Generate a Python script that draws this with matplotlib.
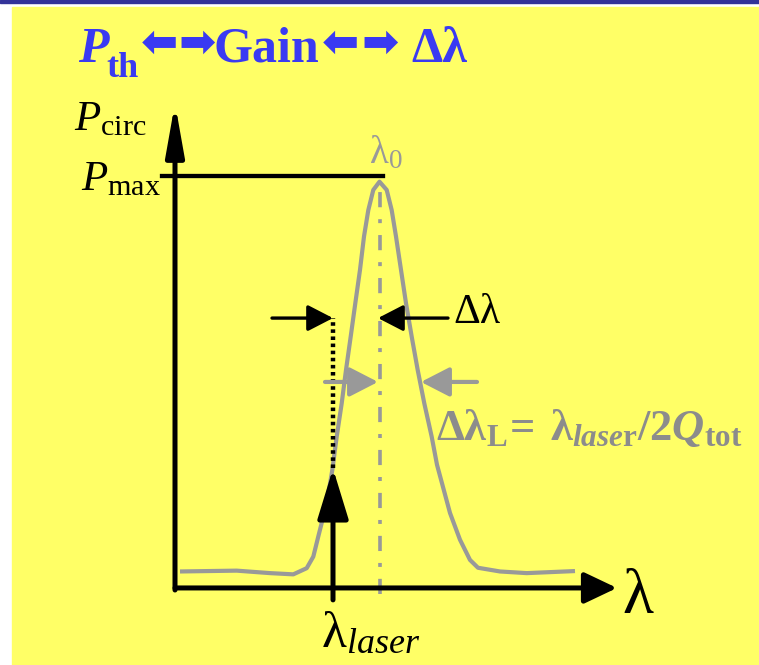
import matplotlib.pyplot as plt
from matplotlib.patches import Rectangle

plt.rcParams['mathtext.fontset'] = 'custom'
plt.rcParams['mathtext.rm'] = 'Liberation Serif'
plt.rcParams['mathtext.it'] = 'Liberation Serif:italic'
plt.rcParams['mathtext.bf'] = 'Liberation Serif:bold'
plt.rcParams['mathtext.bfit'] = 'Liberation Serif:italic:bold'

# cavity response: detuning from lambda_0 vs circulating power (P/Pmax)
lam = [-2.00, -1.433, -1.10, -0.867, -0.733, -0.667, -0.617, -0.533, -0.477,
       -0.433, -0.383, -0.34, -0.293, -0.247, -0.20, -0.16, -0.117, -0.067,
       -0.005, 0.067, 0.117, 0.16, 0.21, 0.26, 0.317, 0.377, 0.443, 0.517,
       0.57, 0.70, 0.80, 0.90, 0.98, 1.20, 1.467, 1.95]
power = [0.040, 0.042, 0.036, 0.033, 0.048, 0.076, 0.125, 0.206, 0.286,
         0.367, 0.448, 0.529, 0.610, 0.691, 0.772, 0.853, 0.917, 0.966,
         0.986, 0.966, 0.917, 0.853, 0.772, 0.691, 0.610, 0.529, 0.448, 0.367,
         0.299, 0.182, 0.117, 0.068, 0.049, 0.040, 0.036, 0.041]

lam0 = 0.0
lam_laser = -0.47
p_laser = 0.29
p_max = 1.0
hwhm = 0.41
half_level = 0.5
dl_level = 0.655

W, H = 759, 665
YELLOW = '#ffff66'
BLUE = '#3a3af2'
GRAY = '#999999'
TGRAY = '#8c8c8c'

fig = plt.figure(figsize=(W / 100, H / 100), dpi=100)
fig.patches.append(Rectangle((0, 1 - 3 / H), 1, 3 / H, transform=fig.transFigure,
                             color='#333399', zorder=-2))
fig.patches.append(Rectangle((12 / W, 0), 1 - 12 / W, 1 - 7 / H, transform=fig.transFigure,
                             color=YELLOW, zorder=-2))

ax = fig.add_axes([0, 0, 1, 1])
ax.set_xlim(-3.80, 3.79)
ax.set_ylim(-0.187, 1.427)
ax.axis('off')
ax.patch.set_alpha(0)


def fpos(x, y):
    return x / W, 1 - y / H


def arrow(x0, y0, x1, y1, color, lw, hl, hw):
    ax.annotate('', xy=(x1, y1), xytext=(x0, y0),
                arrowprops=dict(arrowstyle=f'-|>,head_length={hl},head_width={hw}',
                                color=color, lw=lw, shrinkA=0, shrinkB=0,
                                mutation_scale=1))


# resonance curve
ax.plot(lam, power, color=GRAY, lw=3.0, solid_joinstyle='round',
        solid_capstyle='butt', zorder=2)
ax.plot([lam0, lam0], [-0.015, 0.966], color=GRAY, lw=2.6,
        dashes=(4.2, 3.3, 1.1, 3.3), zorder=1)

# axes with arrows
arrow(-2.05, -0.005, -2.05, 1.177, 'black', 3.6, 31, 5.5)
arrow(-2.05, 0.0, 2.37, 0.0, 'black', 3.6, 20, 9.5)
ax.plot([-2.18, lam0 + 0.03], [p_max, p_max], color='black', lw=3.1)

# laser line
arrow(lam_laser, -0.029, lam_laser, p_laser, 'black', 3.6, 31, 9.5)
ax.plot([lam_laser, lam_laser], [p_laser, dl_level], color='black', lw=3.2,
        dashes=(0.8, 0.8), dash_capstyle='butt', zorder=3)

# detuning arrows
arrow(-1.08, dl_level, lam_laser, dl_level, 'black', 2.4, 15.5, 8)
arrow(0.68, dl_level, lam0 - 0.02, dl_level, 'black', 2.4, 15.5, 8)
arrow(-0.55, half_level, lam0 - 0.02, half_level, GRAY, 3.0, 17.5, 9)
arrow(0.97, half_level, hwhm, half_level, GRAY, 3.0, 17.5, 9)

# title
fig.text(*fpos(78, 62), 'P', fontfamily='Liberation Serif', fontweight='bold',
         fontstyle='italic', fontsize=36, color=BLUE, va='baseline')
fig.text(*fpos(106, 77), 'th', fontfamily='Liberation Serif', fontweight='bold',
         fontsize=26, color=BLUE, va='baseline')
for xc, glyph in ((159, '⬅'), (197, '➡'), (340, '⬅'), (380, '➡')):
    fig.text(*fpos(xc, 43), glyph, fontfamily='DejaVu Sans', fontweight='bold',
             fontsize=32, color=BLUE, ha='center', va='center')
fig.text(*fpos(214, 62), 'Gain', fontfamily='Liberation Serif', fontweight='bold',
         fontsize=36, color=BLUE, va='baseline')
fig.text(*fpos(411, 62), 'Δλ', fontfamily='Liberation Serif', fontweight='bold',
         fontsize=36, color=BLUE, va='baseline')

# labels
fig.text(*fpos(74, 130), r'$P_{\mathrm{circ}}$', fontsize=31, va='baseline')
fig.text(*fpos(81, 190), r'$P_{\mathrm{max}}$', fontsize=31, va='baseline')
fig.text(*fpos(369, 163), r'$\mathrm{λ}_0$', fontsize=28, va='baseline', color=GRAY)
fig.text(*fpos(453, 323), 'Δλ', fontfamily='Liberation Serif', fontsize=30,
         va='baseline')
fig.text(*fpos(436, 440), r'$\mathbf{Δλ}_{\mathbf{L}}$',
         fontsize=32, va='baseline', color=TGRAY)
fig.text(*fpos(510, 440), '=', fontfamily='Liberation Serif', fontweight='bold',
         fontsize=32, va='baseline', color=TGRAY)
fig.text(*fpos(550, 440),
         r'$\mathbf{λ}_{\mathbfit{lase}\mathbf{r}}\mathbf{/2}\mathbfit{Q}_{\mathbf{tot}}$',
         fontsize=32, va='baseline', color=TGRAY)
fig.text(*fpos(622, 613), 'λ', fontfamily='Liberation Serif', fontsize=46,
         va='baseline')
fig.text(*fpos(321, 647), r'$\mathrm{λ}_{laser}$', fontsize=37, va='baseline')

fig.savefig('out.png', dpi=100)
